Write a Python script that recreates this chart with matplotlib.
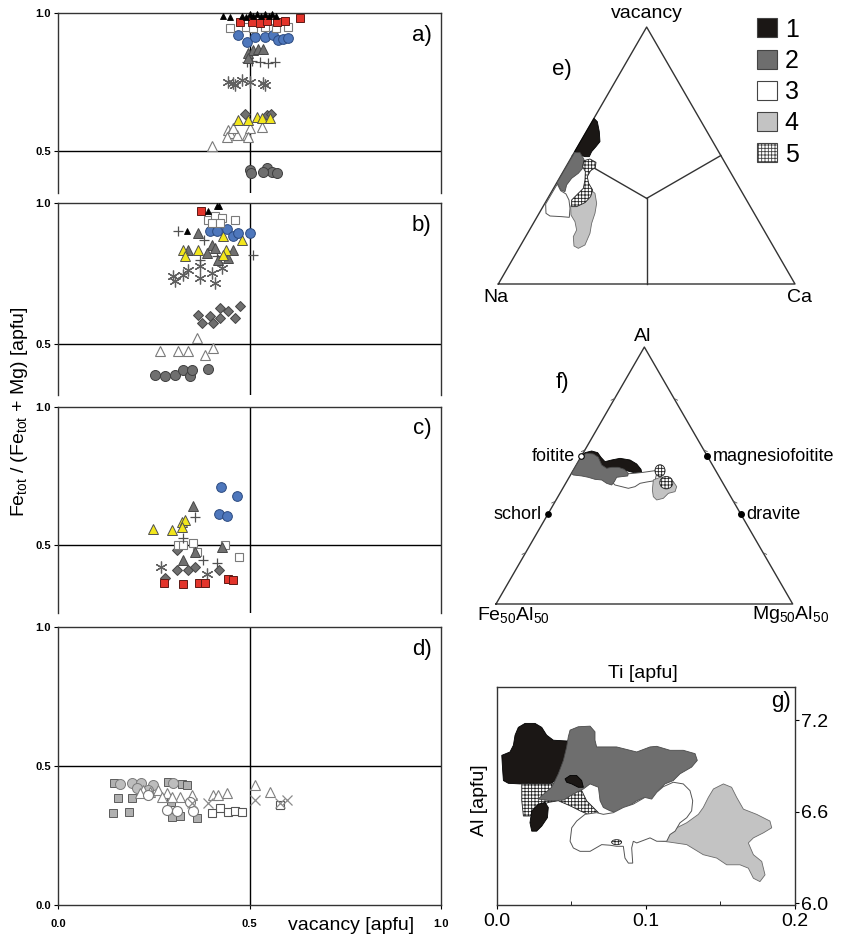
import numpy as np
import matplotlib
matplotlib.use("Agg")
import matplotlib.pyplot as plt
from matplotlib.patches import Polygon, Ellipse, Patch

plt.rcParams["font.family"] = ["Liberation Sans", "DejaVu Sans"]
plt.rcParams["mathtext.fontset"] = "custom"
plt.rcParams["mathtext.rm"] = "Liberation Sans"
plt.rcParams["mathtext.it"] = "Liberation Sans:italic"
plt.rcParams["mathtext.bf"] = "Liberation Sans:bold"
plt.rcParams["hatch.linewidth"] = 0.6
plt.rcParams["hatch.color"] = "black"

# ---------------------------------------------------------------------------
# a) - d): vacancy vs Fe_tot/(Fe_tot+Mg)
# ---------------------------------------------------------------------------
a_tri_black_x = [0.43, 0.45, 0.48, 0.50, 0.51, 0.52, 0.53, 0.54, 0.55, 0.56, 0.57, 0.49]
a_tri_black_y = [0.99, 0.985, 0.99, 0.995, 0.99, 0.995, 0.99, 0.995, 0.99, 0.995, 0.99, 0.985]
a_sq_red_x = [0.475, 0.506, 0.527, 0.545, 0.571, 0.593, 0.632]
a_sq_red_y = [0.968, 0.968, 0.965, 0.970, 0.968, 0.970, 0.981]
a_sq_white_x = [0.45, 0.49, 0.51, 0.54, 0.57, 0.60]
a_sq_white_y = [0.945, 0.95, 0.945, 0.95, 0.945, 0.95]
a_circ_blue_x = [0.47, 0.493, 0.514, 0.54, 0.561, 0.574, 0.587, 0.60]
a_circ_blue_y = [0.92, 0.895, 0.913, 0.913, 0.92, 0.902, 0.906, 0.909]
a_tri_gray_x = [0.496, 0.509, 0.522, 0.535, 0.496]
a_tri_gray_y = [0.855, 0.866, 0.87, 0.87, 0.837]
a_plus_x = [0.493, 0.507, 0.527, 0.548, 0.567]
a_plus_y = [0.823, 0.825, 0.823, 0.82, 0.823]
a_star_x = [0.444, 0.457, 0.462, 0.48, 0.501, 0.535, 0.54]
a_star_y = [0.75, 0.746, 0.739, 0.757, 0.75, 0.746, 0.739]
a_dia_gray_x = [0.488, 0.546, 0.556]
a_dia_gray_y = [0.634, 0.63, 0.634]
a_tri_yellow_x = [0.47, 0.496, 0.52, 0.533, 0.553]
a_tri_yellow_y = [0.612, 0.612, 0.623, 0.62, 0.62]
a_tri_white_x = [0.402, 0.444, 0.449, 0.467, 0.441, 0.493, 0.501, 0.533, 0.496, 0.457]
a_tri_white_y = [0.518, 0.576, 0.565, 0.558, 0.551, 0.558, 0.583, 0.587, 0.551, 0.583]
a_circ_gray_x = [0.501, 0.504, 0.546, 0.559, 0.572, 0.535]
a_circ_gray_y = [0.431, 0.42, 0.438, 0.424, 0.42, 0.424]

b_sq_red_x = [0.373]
b_sq_red_y = [0.973]
b_tri_black_x = [0.414, 0.392, 0.336, 0.42]
b_tri_black_y = [0.988, 0.97, 0.9, 0.99]
b_sq_white_x = [0.392, 0.41, 0.427, 0.462, 0.401, 0.423]
b_sq_white_y = [0.941, 0.953, 0.947, 0.941, 0.929, 0.929]
b_circ_blue_x = [0.397, 0.414, 0.44, 0.458, 0.471, 0.501]
b_circ_blue_y = [0.9, 0.9, 0.909, 0.882, 0.894, 0.894]
b_tri_gray_x = [0.366, 0.401, 0.388, 0.34, 0.458, 0.445, 0.419, 0.41]
b_tri_gray_y = [0.894, 0.852, 0.823, 0.834, 0.834, 0.805, 0.799, 0.84]
b_tri_yellow_x = [0.327, 0.366, 0.332, 0.432, 0.48, 0.439, 0.432]
b_tri_yellow_y = [0.834, 0.834, 0.811, 0.882, 0.87, 0.834, 0.817]
b_plus_x = [0.314, 0.51, 0.38, 0.371, 0.414]
b_plus_y = [0.9, 0.817, 0.87, 0.799, 0.811]
b_star_x = [0.301, 0.305, 0.34, 0.371, 0.371, 0.401, 0.41, 0.427, 0.327]
b_star_y = [0.74, 0.724, 0.763, 0.776, 0.734, 0.752, 0.716, 0.77, 0.746]
b_dia_gray_x = [0.366, 0.375, 0.397, 0.406, 0.423, 0.445, 0.462, 0.475, 0.423]
b_dia_gray_y = [0.604, 0.574, 0.598, 0.574, 0.628, 0.616, 0.592, 0.634, 0.592]
b_tri_white_x = [0.362, 0.266, 0.314, 0.34, 0.384, 0.406]
b_tri_white_y = [0.521, 0.474, 0.474, 0.474, 0.462, 0.486]
b_circ_gray_x = [0.253, 0.279, 0.305, 0.327, 0.345, 0.349, 0.392]
b_circ_gray_y = [0.391, 0.385, 0.391, 0.409, 0.385, 0.409, 0.412]

c_circ_blue_x = [0.426, 0.468, 0.421, 0.442]
c_circ_blue_y = [0.711, 0.679, 0.612, 0.605]
c_tri_gray_x = [0.353, 0.327, 0.427, 0.358]
c_tri_gray_y = [0.641, 0.446, 0.492, 0.476]
c_tri_yellow_x = [0.247, 0.297, 0.323, 0.332, 0.323]
c_tri_yellow_y = [0.557, 0.554, 0.584, 0.591, 0.566]
c_plus_x = [0.358, 0.327, 0.379, 0.414]
c_plus_y = [0.603, 0.524, 0.446, 0.434]
c_sq_white_x = [0.314, 0.327, 0.353, 0.436, 0.473, 0.362]
c_sq_white_y = [0.5, 0.5, 0.508, 0.5, 0.458, 0.476]
c_dia_gray_x = [0.31, 0.31, 0.34, 0.358, 0.42, 0.279]
c_dia_gray_y = [0.482, 0.409, 0.409, 0.421, 0.409, 0.379]
c_star_x = [0.268, 0.388]
c_star_y = [0.421, 0.397]
c_sq_red_x = [0.277, 0.326, 0.369, 0.384, 0.445, 0.456]
c_sq_red_y = [0.361, 0.358, 0.361, 0.363, 0.376, 0.373]

d_sq_lgray_x = [0.145, 0.157, 0.192, 0.143, 0.186, 0.288, 0.323, 0.294, 0.297, 0.319, 0.362, 0.336]
d_sq_lgray_y = [0.438, 0.384, 0.384, 0.33, 0.333, 0.444, 0.435, 0.372, 0.318, 0.32, 0.312, 0.432]
d_circ_lgray_x = [0.162, 0.192, 0.218, 0.249, 0.301, 0.205, 0.236]
d_circ_lgray_y = [0.435, 0.438, 0.438, 0.432, 0.438, 0.42, 0.414]
d_circ_white_x = [0.284, 0.311, 0.353, 0.345, 0.236]
d_circ_white_y = [0.342, 0.339, 0.339, 0.372, 0.396]
d_tri_white_x = [0.223, 0.24, 0.262, 0.284, 0.319, 0.349, 0.406, 0.418, 0.44, 0.514, 0.554, 0.214, 0.271, 0.297]
d_tri_white_y = [0.414, 0.408, 0.414, 0.402, 0.39, 0.396, 0.396, 0.396, 0.402, 0.432, 0.408, 0.402, 0.39, 0.39]
d_sq_white_x = [0.423, 0.401, 0.445, 0.462, 0.48, 0.58]
d_sq_white_y = [0.348, 0.33, 0.336, 0.339, 0.336, 0.36]
d_x_gray_x = [0.392, 0.514, 0.58, 0.597, 0.349]
d_x_gray_y = [0.366, 0.378, 0.366, 0.378, 0.366]

# ---------------------------------------------------------------------------
# e) X-site ternary (vacancy - Na - Ca); field outlines in triangle x/y units
# ---------------------------------------------------------------------------
e1_x = [0.3225, 0.3337, 0.3404, 0.3427, 0.3292, 0.3146, 0.3067, 0.2921, 0.2753, 0.2573]
e1_y = [0.5584, 0.5472, 0.5135, 0.4798, 0.4629, 0.4461, 0.4292, 0.4292, 0.4348, 0.4461]
e2_x = [0.2573, 0.2753, 0.2888, 0.2843, 0.2697, 0.2472, 0.2303, 0.2247, 0.2101, 0.1978]
e2_y = [0.4427, 0.4427, 0.4202, 0.3899, 0.3730, 0.3562, 0.3337, 0.3112, 0.3169, 0.3416]
e3_x = [0.1989, 0.2101, 0.2281, 0.2382, 0.2416, 0.2393, 0.2135, 0.1742, 0.1607, 0.1596]
e3_y = [0.3371, 0.3146, 0.3034, 0.2831, 0.2551, 0.2247, 0.2270, 0.2292, 0.2382, 0.2697]
e4_x = [0.2438, 0.2528, 0.2753, 0.3090, 0.3258, 0.3315, 0.3258, 0.3146, 0.3090, 0.2921,
        0.2697, 0.2551, 0.2528, 0.2640, 0.2584, 0.2449]
e4_y = [0.2607, 0.2831, 0.3000, 0.3191, 0.3056, 0.2719, 0.2382, 0.2045, 0.1708, 0.1315,
        0.1202, 0.1281, 0.1596, 0.1820, 0.2101, 0.2326]
e5_x = [0.2888, 0.3090, 0.3292, 0.3270, 0.3112, 0.3000, 0.3045, 0.3180, 0.3112, 0.2921,
        0.2640, 0.2472, 0.2472, 0.2640, 0.2865, 0.2921, 0.2933, 0.2843]
e5_y = [0.4157, 0.4213, 0.4101, 0.3921, 0.3820, 0.3618, 0.3393, 0.3169, 0.2944, 0.2742,
        0.2607, 0.2607, 0.2831, 0.3000, 0.3225, 0.3506, 0.3787, 0.3955]

# ---------------------------------------------------------------------------
# f) Al - Fe50Al50 - Mg50Al50 ternary
# ---------------------------------------------------------------------------
f1_x = [0.2870, 0.3000, 0.3225, 0.3427, 0.3539, 0.3674, 0.3899, 0.4180, 0.4517, 0.4742,
        0.4888, 0.4910, 0.4742, 0.4517, 0.4236, 0.3955, 0.3730, 0.3449, 0.3112, 0.2865]
f1_y = [0.4960, 0.5101, 0.5157, 0.5101, 0.4944, 0.4798, 0.4854, 0.4910, 0.4854, 0.4719,
        0.4539, 0.4427, 0.4404, 0.4461, 0.4539, 0.4539, 0.4461, 0.4517, 0.4685, 0.4854]
f2_x = [0.2888, 0.3056, 0.3281, 0.3449, 0.3562, 0.3730, 0.3899, 0.4124, 0.4326, 0.4461,
        0.4438, 0.4236, 0.4067, 0.3989, 0.3899, 0.3730, 0.3562, 0.3337, 0.3112, 0.2888,
        0.2607, 0.2540]
f2_y = [0.4989, 0.5079, 0.5056, 0.4944, 0.4685, 0.4573, 0.4607, 0.4607, 0.4539, 0.4404,
        0.4315, 0.4292, 0.4270, 0.4124, 0.4011, 0.4067, 0.4180, 0.4202, 0.4270, 0.4315,
        0.4348, 0.4400]
f3_x = [0.3955, 0.4348, 0.4629, 0.4966, 0.5360, 0.5416, 0.5360, 0.5079, 0.4854, 0.4685,
        0.4461, 0.4236, 0.4011, 0.3899]
f3_y = [0.4348, 0.4382, 0.4404, 0.4438, 0.4494, 0.4404, 0.4157, 0.4112, 0.4067, 0.3955,
        0.3899, 0.3955, 0.4011, 0.4124]
f4_x = [0.5303, 0.5528, 0.5753, 0.5978, 0.6090, 0.6034, 0.5809, 0.5640, 0.5416, 0.5303, 0.5270]
f4_y = [0.4180, 0.4270, 0.4202, 0.4124, 0.3955, 0.3787, 0.3730, 0.3562, 0.3506, 0.3618, 0.3843]
f5_cx = [0.5528, 0.5740]
f5_cy = [0.4494, 0.4090]
f5_w = [0.034, 0.044]
f5_h = [0.040, 0.042]

endmember_names = ["foitite", "schorl", "magnesiofoitite", "dravite"]
endmember_al = [0.575, 0.35, 0.575, 0.35]       # fraction of the Al apex
endmember_side = ["Fe", "Fe", "Mg", "Mg"]

# ---------------------------------------------------------------------------
# g) Ti vs Al [apfu]
# ---------------------------------------------------------------------------
g1a_x = [0.0034, 0.0089, 0.0112, 0.0123, 0.0145, 0.0190, 0.0257, 0.0302, 0.0335, 0.0380,
         0.0469, 0.0536, 0.0525, 0.0480, 0.0413, 0.0358, 0.0291, 0.0212, 0.0156, 0.0078,
         0.0045, 0.0040]
g1a_y = [6.969, 6.991, 7.035, 7.101, 7.152, 7.178, 7.178, 7.152, 7.101, 7.068,
         7.063, 7.068, 6.958, 6.870, 6.815, 6.782, 6.777, 6.786, 6.782, 6.786,
         6.804, 6.870]
g1b_x = [0.0458, 0.0492, 0.0536, 0.0570, 0.0581, 0.0547, 0.0503, 0.0469]
g1b_y = [6.815, 6.837, 6.837, 6.804, 6.760, 6.760, 6.782, 6.793]
g1c_x = [0.0223, 0.0235, 0.0279, 0.0324, 0.0346, 0.0340, 0.0302, 0.0268, 0.0235]
g1c_y = [6.528, 6.606, 6.650, 6.661, 6.628, 6.561, 6.506, 6.473, 6.473]
g2_x = [0.0279, 0.0302, 0.0369, 0.0413, 0.0447, 0.0469, 0.0480, 0.0492, 0.0547, 0.0626,
        0.0659, 0.0659, 0.0670, 0.0804, 0.0939, 0.1028, 0.1073, 0.1162, 0.1251, 0.1330,
        0.1345, 0.1307, 0.1229, 0.1184, 0.1128, 0.1084, 0.1061, 0.1028, 0.0994, 0.0939,
        0.0872, 0.0804, 0.0760, 0.0715, 0.0693, 0.0682, 0.0626, 0.0581, 0.0514, 0.0447,
        0.0358]
g2_y = [6.683, 6.705, 6.760, 6.848, 6.936, 7.024, 7.090, 7.134, 7.156, 7.160,
        7.123, 7.068, 7.024, 7.024, 6.991, 7.024, 7.028, 7.002, 7.002, 6.980,
        6.936, 6.892, 6.848, 6.804, 6.782, 6.738, 6.672, 6.650, 6.694, 6.672,
        6.628, 6.594, 6.606, 6.628, 6.672, 6.760, 6.782, 6.749, 6.716, 6.676,
        6.672]
g3_x = [0.0492, 0.0503, 0.0536, 0.0592, 0.0670, 0.0715, 0.0782, 0.0849, 0.0916, 0.0994,
        0.1039, 0.1073, 0.1117, 0.1184, 0.1251, 0.1296, 0.1314, 0.1307, 0.1274, 0.1229,
        0.1196, 0.1162, 0.1140, 0.1073, 0.1028, 0.0939, 0.0916, 0.0905, 0.0912, 0.0883,
        0.0860, 0.0849, 0.0804, 0.0760, 0.0704, 0.0626, 0.0559, 0.0514]
g3_y = [6.407, 6.495, 6.539, 6.583, 6.594, 6.583, 6.594, 6.628, 6.650, 6.694,
        6.683, 6.727, 6.764, 6.793, 6.782, 6.738, 6.672, 6.606, 6.561, 6.528,
        6.473, 6.451, 6.407, 6.407, 6.429, 6.396, 6.407, 6.363, 6.264, 6.264,
        6.297, 6.374, 6.374, 6.381, 6.385, 6.341, 6.341, 6.363]
g4_x = [0.1028, 0.1162, 0.1274, 0.1352, 0.1385, 0.1419, 0.1453, 0.1520, 0.1575, 0.1609,
        0.1654, 0.1743, 0.1832, 0.1844, 0.1788, 0.1721, 0.1687, 0.1721, 0.1777, 0.1799,
        0.1765, 0.1721, 0.1687, 0.1631, 0.1542, 0.1475, 0.1385, 0.1274, 0.1162, 0.1073]
g4_y = [6.434, 6.473, 6.528, 6.583, 6.628, 6.694, 6.749, 6.782, 6.760, 6.694,
        6.617, 6.583, 6.539, 6.495, 6.462, 6.429, 6.396, 6.319, 6.275, 6.187,
        6.143, 6.165, 6.231, 6.253, 6.253, 6.297, 6.319, 6.385, 6.401, 6.412]
g5a_x = [0.0168, 0.0369, 0.0458, 0.0559, 0.0603, 0.0682, 0.0637, 0.0559, 0.0492, 0.0413,
         0.0346, 0.0268, 0.0223, 0.0179, 0.0168]
g5a_y = [6.782, 6.782, 6.808, 6.760, 6.672, 6.594, 6.572, 6.606, 6.639, 6.672,
         6.661, 6.628, 6.572, 6.572, 6.672]
g5b_center = (0.0804, 6.401)
g5b_size = (0.0067, 0.033)

legend_labels = ["1", "2", "3", "4", "5"]

# ---------------------------------------------------------------------------
W, H = 842, 939
fig = plt.figure(figsize=(W / 100, H / 100), dpi=100)


def frame(l, t, r, b):
    """Pixel box (left, top, right, bottom) -> figure fraction rectangle."""
    return [l / W, 1 - b / H, (r - l) / W, (b - t) / H]


STYLE = {
    "tri_black": dict(marker="^", mfc="black", mec="black", ms=5.0, mew=0.6),
    "sq_red": dict(marker="s", mfc="#e3342b", mec="#5e1a16", ms=6.2, mew=0.7),
    "sq_white": dict(marker="s", mfc="white", mec="#7a7a7a", ms=6.4, mew=0.8),
    "circ_blue": dict(marker="o", mfc="#4e77bc", mec="#2b4a80", ms=7.0, mew=0.7),
    "tri_gray": dict(marker="^", mfc="#707070", mec="#474747", ms=7.0, mew=0.7),
    "plus": dict(marker="+", mfc="none", mec="#505050", ms=7.5, mew=0.9),
    "star": dict(marker=(6, 2, 0), mfc="none", mec="#606060", ms=8.5, mew=0.9),
    "tri_yellow": dict(marker="^", mfc="#f2e61c", mec="#505050", ms=7.0, mew=0.7),
    "tri_white": dict(marker="^", mfc="white", mec="#7a7a7a", ms=7.0, mew=0.8),
    "circ_gray": dict(marker="o", mfc="#6f6f6f", mec="#3f3f3f", ms=7.2, mew=0.7),
    "dia_gray": dict(marker="D", mfc="#6f6f6f", mec="#444444", ms=5.4, mew=0.7),
    "sq_lgray": dict(marker="s", mfc="#b0b0b0", mec="#5c5c5c", ms=6.4, mew=0.7),
    "circ_lgray": dict(marker="o", mfc="#bdbdbd", mec="#7a7a7a", ms=7.2, mew=0.7),
    "circ_white": dict(marker="o", mfc="white", mec="#777777", ms=7.2, mew=0.8),
    "sq_white_d": dict(marker="s", mfc="white", mec="#555555", ms=6.4, mew=0.8),
    "tri_white_d": dict(marker="^", mfc="white", mec="#808080", ms=7.2, mew=0.8),
    "x_gray": dict(marker="x", mfc="none", mec="#8a8a8a", ms=7.0, mew=0.9),
}

panels = [
    ("a)", 13, 193, 0.348, [
        ("circ_gray", a_circ_gray_x, a_circ_gray_y),
        ("tri_white", a_tri_white_x, a_tri_white_y),
        ("dia_gray", a_dia_gray_x, a_dia_gray_y),
        ("tri_yellow", a_tri_yellow_x, a_tri_yellow_y),
        ("star", a_star_x, a_star_y),
        ("plus", a_plus_x, a_plus_y),
        ("tri_gray", a_tri_gray_x, a_tri_gray_y),
        ("circ_blue", a_circ_blue_x, a_circ_blue_y),
        ("sq_white", a_sq_white_x, a_sq_white_y),
        ("sq_red", a_sq_red_x, a_sq_red_y),
        ("tri_black", a_tri_black_x, a_tri_black_y),
    ]),
    ("b)", 203, 395, 0.319, [
        ("circ_gray", b_circ_gray_x, b_circ_gray_y),
        ("tri_white", b_tri_white_x, b_tri_white_y),
        ("dia_gray", b_dia_gray_x, b_dia_gray_y),
        ("star", b_star_x, b_star_y),
        ("plus", b_plus_x, b_plus_y),
        ("tri_gray", b_tri_gray_x, b_tri_gray_y),
        ("tri_yellow", b_tri_yellow_x, b_tri_yellow_y),
        ("circ_blue", b_circ_blue_x, b_circ_blue_y),
        ("sq_white", b_sq_white_x, b_sq_white_y),
        ("sq_red", b_sq_red_x, b_sq_red_y),
        ("tri_black", b_tri_black_x, b_tri_black_y),
    ]),
    ("c)", 407, 613, 0.254, [
        ("star", c_star_x, c_star_y),
        ("dia_gray", c_dia_gray_x, c_dia_gray_y),
        ("sq_white", c_sq_white_x, c_sq_white_y),
        ("plus", c_plus_x, c_plus_y),
        ("tri_gray", c_tri_gray_x, c_tri_gray_y),
        ("tri_yellow", c_tri_yellow_x, c_tri_yellow_y),
        ("circ_blue", c_circ_blue_x, c_circ_blue_y),
        ("sq_red", c_sq_red_x, c_sq_red_y),
    ]),
    ("d)", 627, 905, 0.0, [
        ("sq_lgray", d_sq_lgray_x, d_sq_lgray_y),
        ("circ_lgray", d_circ_lgray_x, d_circ_lgray_y),
        ("tri_white_d", d_tri_white_x, d_tri_white_y),
        ("circ_white", d_circ_white_x, d_circ_white_y),
        ("sq_white_d", d_sq_white_x, d_sq_white_y),
        ("x_gray", d_x_gray_x, d_x_gray_y),
    ]),
]

for label, top, bottom, ylow, series in panels:
    ax = fig.add_axes(frame(58, top, 441, bottom))
    ax.set_xlim(0, 1)
    ax.set_ylim(ylow, 1.0)
    for side in ("left", "right", "top", "bottom"):
        ax.spines[side].set_color("#333333")
        ax.spines[side].set_linewidth(1.0)
    if ylow > 0:
        ax.spines["bottom"].set_visible(False)
        ax.set_xticks([])
        yt = [0.5, 1.0]
    else:
        yt = [0.0, 0.5, 1.0]
        ax.set_xticks([0.0, 0.5, 1.0], ["0.0", "0.5", "1.0"], fontsize=8, fontweight="bold")
        ax.tick_params(axis="x", direction="out", length=3, width=0.8, pad=7)
    ax.set_yticks(yt, [f"{v:.1f}" for v in yt], fontsize=8, fontweight="bold")
    ax.tick_params(axis="y", direction="out", length=3, width=0.8, pad=2)
    ax.axhline(0.5, color="black", lw=1.0, zorder=1)
    ax.axvline(0.5, color="black", lw=1.0, zorder=1)
    for key, xs, ys in series:
        ax.plot(xs, ys, ls="none", clip_on=False, zorder=3, **STYLE[key])
    ax.text(0.95, 1 - 22 / (bottom - top), label, transform=ax.transAxes,
            ha="center", va="center", fontsize=16)

fig.text(351 / W, 1 - 925 / H, "vacancy [apfu]", ha="center", va="center", fontsize=14)
fig.text(20 / W, 1 - 412 / H, r"Fe$_{\rm tot}$ / (Fe$_{\rm tot}$ + Mg) [apfu]",
         rotation=90, ha="center", va="center", fontsize=14)

# ---------------------------------------------------------------------------
SQ3 = np.sqrt(3) / 2
tri_x = [0.0, 1.0, 0.5, 0.0]
tri_y = [0.0, 0.0, SQ3, 0.0]

FILL = {
    1: dict(fc="#1b1715", ec="#000000", lw=0.6),
    2: dict(fc="#6e6e6e", ec="#4a4a4a", lw=0.6),
    3: dict(fc="white", ec="#555555", lw=0.7),
    4: dict(fc="#c3c3c3", ec="#6a6a6a", lw=0.6),
    5: dict(fc="white", ec="#222222", lw=0.6, hatch="+++++"),
}


def blob(ax, xs, ys, kind, z):
    ax.add_patch(Polygon(np.column_stack([xs, ys]), closed=True, zorder=z, **FILL[kind]))


# e) ------------------------------------------------------------------------
scale = 296.7
axe = fig.add_axes(frame(470, 0, 842, 320))
axe.set_xlim(-28.3 / scale, -28.3 / scale + 372 / scale)
axe.set_ylim(-36 / scale, -36 / scale + 320 / scale)
axe.axis("off")
axe.plot(tri_x, tri_y, color="#333333", lw=1.0, zorder=1)
centroid = (0.5, SQ3 / 3)
for mx, my in [(0.5, 0.0), (0.25, SQ3 / 2), (0.75, SQ3 / 2)]:
    axe.plot([centroid[0], mx], [centroid[1], my], color="#333333", lw=1.0, zorder=1)
blob(axe, e1_x, e1_y, 1, 2)
blob(axe, e2_x, e2_y, 2, 3)
blob(axe, e3_x, e3_y, 3, 3)
blob(axe, e4_x, e4_y, 4, 4)
blob(axe, e5_x, e5_y, 5, 5)
axe.text(0.5, 0.912, "vacancy", ha="center", va="center", fontsize=14)
axe.text(-0.008, -0.044, "Na", ha="center", va="center", fontsize=14)
axe.text(1.016, -0.044, "Ca", ha="center", va="center", fontsize=14)
axe.text(0.2137, 0.7246, "e)", ha="center", va="center", fontsize=16)

handles = [Patch(facecolor=FILL[k]["fc"], edgecolor="#444444", lw=0.8,
                 hatch=FILL[k].get("hatch")) for k in range(1, 6)]
axe.legend(handles, legend_labels, loc="upper left", bbox_to_anchor=(0.772, 0.945),
           frameon=False, fontsize=18, handlelength=0.8, handleheight=0.8,
           handletextpad=0.3, labelspacing=0.29, borderpad=0, borderaxespad=0)

# f) ------------------------------------------------------------------------
axf = fig.add_axes(frame(470, 320, 842, 640))
axf.set_xlim(-26 / scale, -26 / scale + 372 / scale)
axf.set_ylim(-36 / scale, -36 / scale + 320 / scale)
axf.axis("off")
axf.plot(tri_x, tri_y, color="#333333", lw=1.0, zorder=1)
for t in [0.2, 0.4, 0.6, 0.8]:
    axf.plot([t / 2, t / 2 - 0.012], [t * SQ3, t * SQ3 - 0.006], color="#555555", lw=0.6)
    axf.plot([1 - t / 2, 1 - t / 2 + 0.012], [t * SQ3, t * SQ3 - 0.006], color="#555555", lw=0.6)
blob(axf, f1_x, f1_y, 1, 2)
blob(axf, f3_x, f3_y, 3, 3)
blob(axf, f2_x, f2_y, 2, 4)
blob(axf, f4_x, f4_y, 4, 4)
for cx, cy, w, h in zip(f5_cx, f5_cy, f5_w, f5_h):
    axf.add_patch(Ellipse((cx, cy), w, h, zorder=5, **FILL[5]))
for name, t, side in zip(endmember_names, endmember_al, endmember_side):
    if side == "Fe":
        px, py = t / 2, t * SQ3
        face = "white" if name == "foitite" else "black"
        axf.plot(px, py, "o", mfc=face, mec="black", ms=4, mew=0.8, zorder=6)
        axf.text(px - 0.02, py, name, ha="right", va="center", fontsize=13)
    else:
        px, py = 1 - t / 2, t * SQ3
        axf.plot(px, py, "o", mfc="black", mec="black", ms=4, zorder=6)
        axf.text(px + 0.018, py, name, ha="left", va="center", fontsize=13)
axf.text(0.4955, 0.900, "Al", ha="center", va="center", fontsize=14)
axf.text(0.057, -0.037, r"Fe$_{\rm 50}$Al$_{\rm 50}$", ha="center", va="center", fontsize=14)
axf.text(0.994, -0.037, r"Mg$_{\rm 50}$Al$_{\rm 50}$", ha="center", va="center", fontsize=14)
axf.text(0.2224, 0.748, "f)", ha="center", va="center", fontsize=16)

# g) ------------------------------------------------------------------------
axg = fig.add_axes(frame(496.7, 686.7, 795, 905))
axg.set_xlim(0, 0.2)
axg.set_ylim(5.99, 7.418)
for side in ("left", "right", "top", "bottom"):
    axg.spines[side].set_color("#333333")
    axg.spines[side].set_linewidth(1.0)
blob(axg, g1a_x, g1a_y, 1, 2)
blob(axg, g5a_x, g5a_y, 5, 3)
blob(axg, g2_x, g2_y, 2, 4)
blob(axg, g1b_x, g1b_y, 1, 5)
blob(axg, g1c_x, g1c_y, 1, 5)
blob(axg, g4_x, g4_y, 4, 5)
blob(axg, g3_x, g3_y, 3, 6)
axg.add_patch(Ellipse(g5b_center, g5b_size[0], g5b_size[1], zorder=7, **FILL[5]))
axg.set_xticks([0.0, 0.1, 0.2], ["0.0", "0.1", "0.2"], fontsize=14)
axg.set_xticks([0.05, 0.15], minor=True)
axg.tick_params(axis="x", which="major", direction="out", length=3, pad=3)
axg.tick_params(axis="x", which="minor", direction="in", length=3)
axg.yaxis.tick_right()
axg.set_yticks([6.0, 6.6, 7.2], ["6.0", "6.6", "7.2"], fontsize=14)
axg.tick_params(axis="y", direction="out", length=3, pad=1)
axg.text(0.985, 0.93, "g)", transform=axg.transAxes, ha="right", va="center", fontsize=16)
fig.text(643 / W, 1 - 673 / H, "Ti [apfu]", ha="center", va="center", fontsize=14)
fig.text(480 / W, 1 - 800 / H, "Al [apfu]", rotation=90, ha="center", va="center", fontsize=14)

fig.savefig("out.png", dpi=100)
